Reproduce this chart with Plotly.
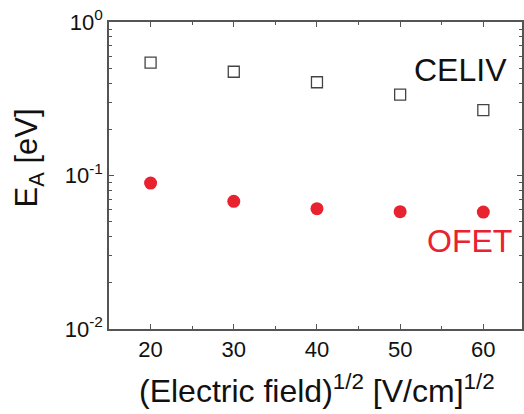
import plotly.graph_objects as go

field = [20, 30, 40, 50, 60]
celiv = [0.543, 0.474, 0.405, 0.336, 0.267]
ofet = [0.0893, 0.0679, 0.0608, 0.0581, 0.0578]

ytickvals = [0.01, 0.1, 1]
yticktext = ["10<sup>-2</sup>", "10<sup>-1</sup>", "10<sup>0</sup>"]
xtickvals = [20, 30, 40, 50, 60]

FONT = "Arial, Liberation Sans, sans-serif"
AXC = "#555555"
RED = "#E8222F"

W, H = 524, 414
L, T, B, R = 109, 22, 414 - 329, 0
pw = W - L - R
ph = H - T - B

fig = go.Figure()
fig.add_trace(go.Scatter(x=field, y=celiv, mode="markers", name="CELIV",
                         marker=dict(symbol="square-open", size=11, color="#444444",
                                     line=dict(width=1.3, color="#444444"))))
fig.add_trace(go.Scatter(x=field, y=ofet, mode="markers", name="OFET",
                         marker=dict(symbol="circle", size=13, color=RED,
                                     line=dict(width=0))))

minor_y = [m * 10 ** e for e in (-2, -1) for m in range(2, 10)]


def px2paper(px, py):
    return (px - L) / pw, 1 - (py - T) / ph


def ann(text, px, py, size, color="#111111", angle=0):
    x, y = px2paper(px, py)
    return dict(text=text, x=x, y=y, xref="paper", yref="paper", showarrow=False,
                xanchor="center", yanchor="middle", textangle=angle,
                font=dict(size=size, family=FONT, color=color))


fig.update_layout(
    width=W, height=H,
    margin=dict(l=L, r=R, t=T, b=B, pad=0),
    paper_bgcolor="white", plot_bgcolor="white",
    showlegend=False,
    font=dict(family=FONT, color="#111111"),
    xaxis=dict(range=[15, 64.65], tickvals=xtickvals, ticks="inside", ticklen=5,
               tickwidth=1.2, tickcolor=AXC, showline=True, linecolor=AXC, linewidth=1.5,
               mirror="ticks", showgrid=False, zeroline=False,
               ticklabeloverflow="allow",
               tickfont=dict(size=22, family=FONT, color="#111111"),
               minor=dict(tickvals=[25, 35, 45, 55], ticks="inside", ticklen=3,
                          tickcolor=AXC, tickwidth=1.2, showgrid=False)),
    yaxis=dict(type="log", range=[-2, 0], tickvals=ytickvals, ticktext=yticktext,
               ticks="inside", ticklen=5, tickwidth=1.2, tickcolor=AXC,
               showline=True, linecolor=AXC, linewidth=1.5, mirror="ticks",
               showgrid=False, zeroline=False, ticklabeloverflow="allow",
               tickfont=dict(size=22, family=FONT, color="#111111"),
               minor=dict(tickvals=minor_y, ticks="inside", ticklen=3,
                          tickcolor=AXC, tickwidth=1.2, showgrid=False)),
    annotations=[
        ann("CELIV", 462, 70, 32),
        ann("OFET", 471, 241, 32, RED),
        ann("(Electric field)<sup>1/2</sup> [V/cm]<sup>1/2</sup>", 318, 389, 32),
        ann("E<sub>A</sub> [eV]", 29, 158, 31, angle=-90),
    ],
)

fig.write_html("out.html", config={"displayModeBar": False},
               post_script="document.body.style.margin='0';document.body.style.overflow='hidden';")
